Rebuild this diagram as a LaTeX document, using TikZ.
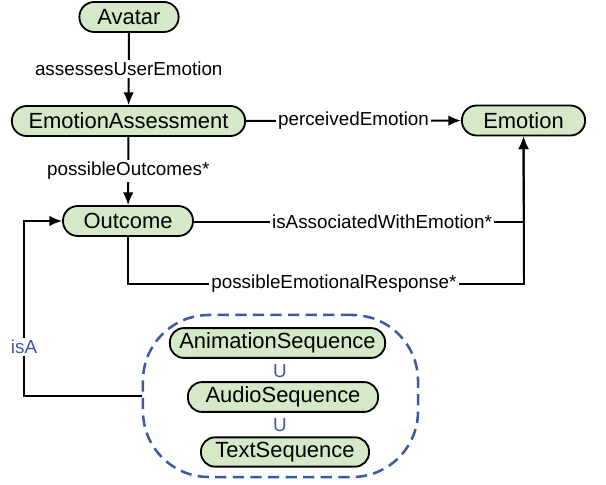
\documentclass[tikz,border=0pt]{standalone}
\usepackage{fontspec}
\setmainfont{Liberation Sans}
\usetikzlibrary{arrows.meta}

\definecolor{conceptgreen}{RGB}{213,232,200}
\definecolor{unionblue}{RGB}{59,89,168}

\begin{document}
\begin{tikzpicture}[x=0.025cm, y=-0.025cm]
\tikzstyle{concept} = [rectangle, rounded corners=0.37cm, minimum height=0.75cm, inner xsep=2pt, text centered, draw=black, line width=1.3pt, fill=conceptgreen, font=\fontsize{15.6}{18}\selectfont]
\tikzstyle{seqbox} = [concept, rounded corners=0.35cm, minimum height=0.71cm]
\tikzstyle{unionbox} = [rectangle, rounded corners=1.65cm, minimum width=6.875cm, minimum height=4.05cm, draw=unionblue, line width=1.8pt, dash pattern=on 8pt off 4.5pt]

\tikzstyle{arrow} = [line width=1.4pt, ->, >={Latex[length=9pt,width=7.5pt]}]
\tikzstyle{rel} = [fill=white, inner sep=1.5pt, font=\fontsize{13.4}{16}\selectfont]
\tikzstyle{bluetext} = [text=unionblue, font=\fontsize{13.4}{16}\selectfont]

	\useasboundingbox (0,0) rectangle (606,485);

	\node (avatar) at (129, 17) [concept, minimum width=2.48cm] {Avatar};
	\node (assess) at (128.5, 121) [concept, minimum width=5.83cm] {EmotionAssessment};
	\node (emotion) at (523.5, 120.5) [concept, minimum width=3.08cm] {Emotion};
	\node (outcome) at (128, 221) [concept, minimum width=3.25cm] {Outcome};

	% union of the sequence types
	\node (union) at (280.5, 396) [unionbox] {};
	\node (anim) at (277.5, 343) [seqbox, minimum width=5.38cm] {AnimationSequence};
	\node (audio) at (283, 397) [seqbox, minimum width=4.75cm] {AudioSequence};
	\node (text) at (285, 452) [seqbox, minimum width=4.2cm] {TextSequence};
	\node (u1) at (280, 371) [bluetext] {U};
	\node (u2) at (280, 425) [bluetext] {U};

	\coordinate (assoc) at (524, 222);
	\coordinate (resp) at (524, 284);
	\coordinate (isa) at (24, 221);

	\draw [arrow] (avatar) -- node[rel] {assessesUserEmotion} (assess);
	\draw [arrow] (assess) -- node[rel] {perceivedEmotion} (emotion);
	\draw [arrow] (assess) -- node[rel] {possibleOutcomes*} (outcome);

	\draw [arrow] (outcome.east |- assoc) -- node[rel, pos=0.57] {isAssociatedWithEmotion*} (assoc) -- (emotion.south);
	\draw [arrow] (outcome.south) |- node[rel, pos=0.76] {possibleEmotionalResponse*} (resp) -- (emotion.south);

	\draw [arrow] (union.west) -| node[rel, bluetext, pos=0.64] {isA} (isa) -- (outcome.west);
\end{tikzpicture}
\end{document}
